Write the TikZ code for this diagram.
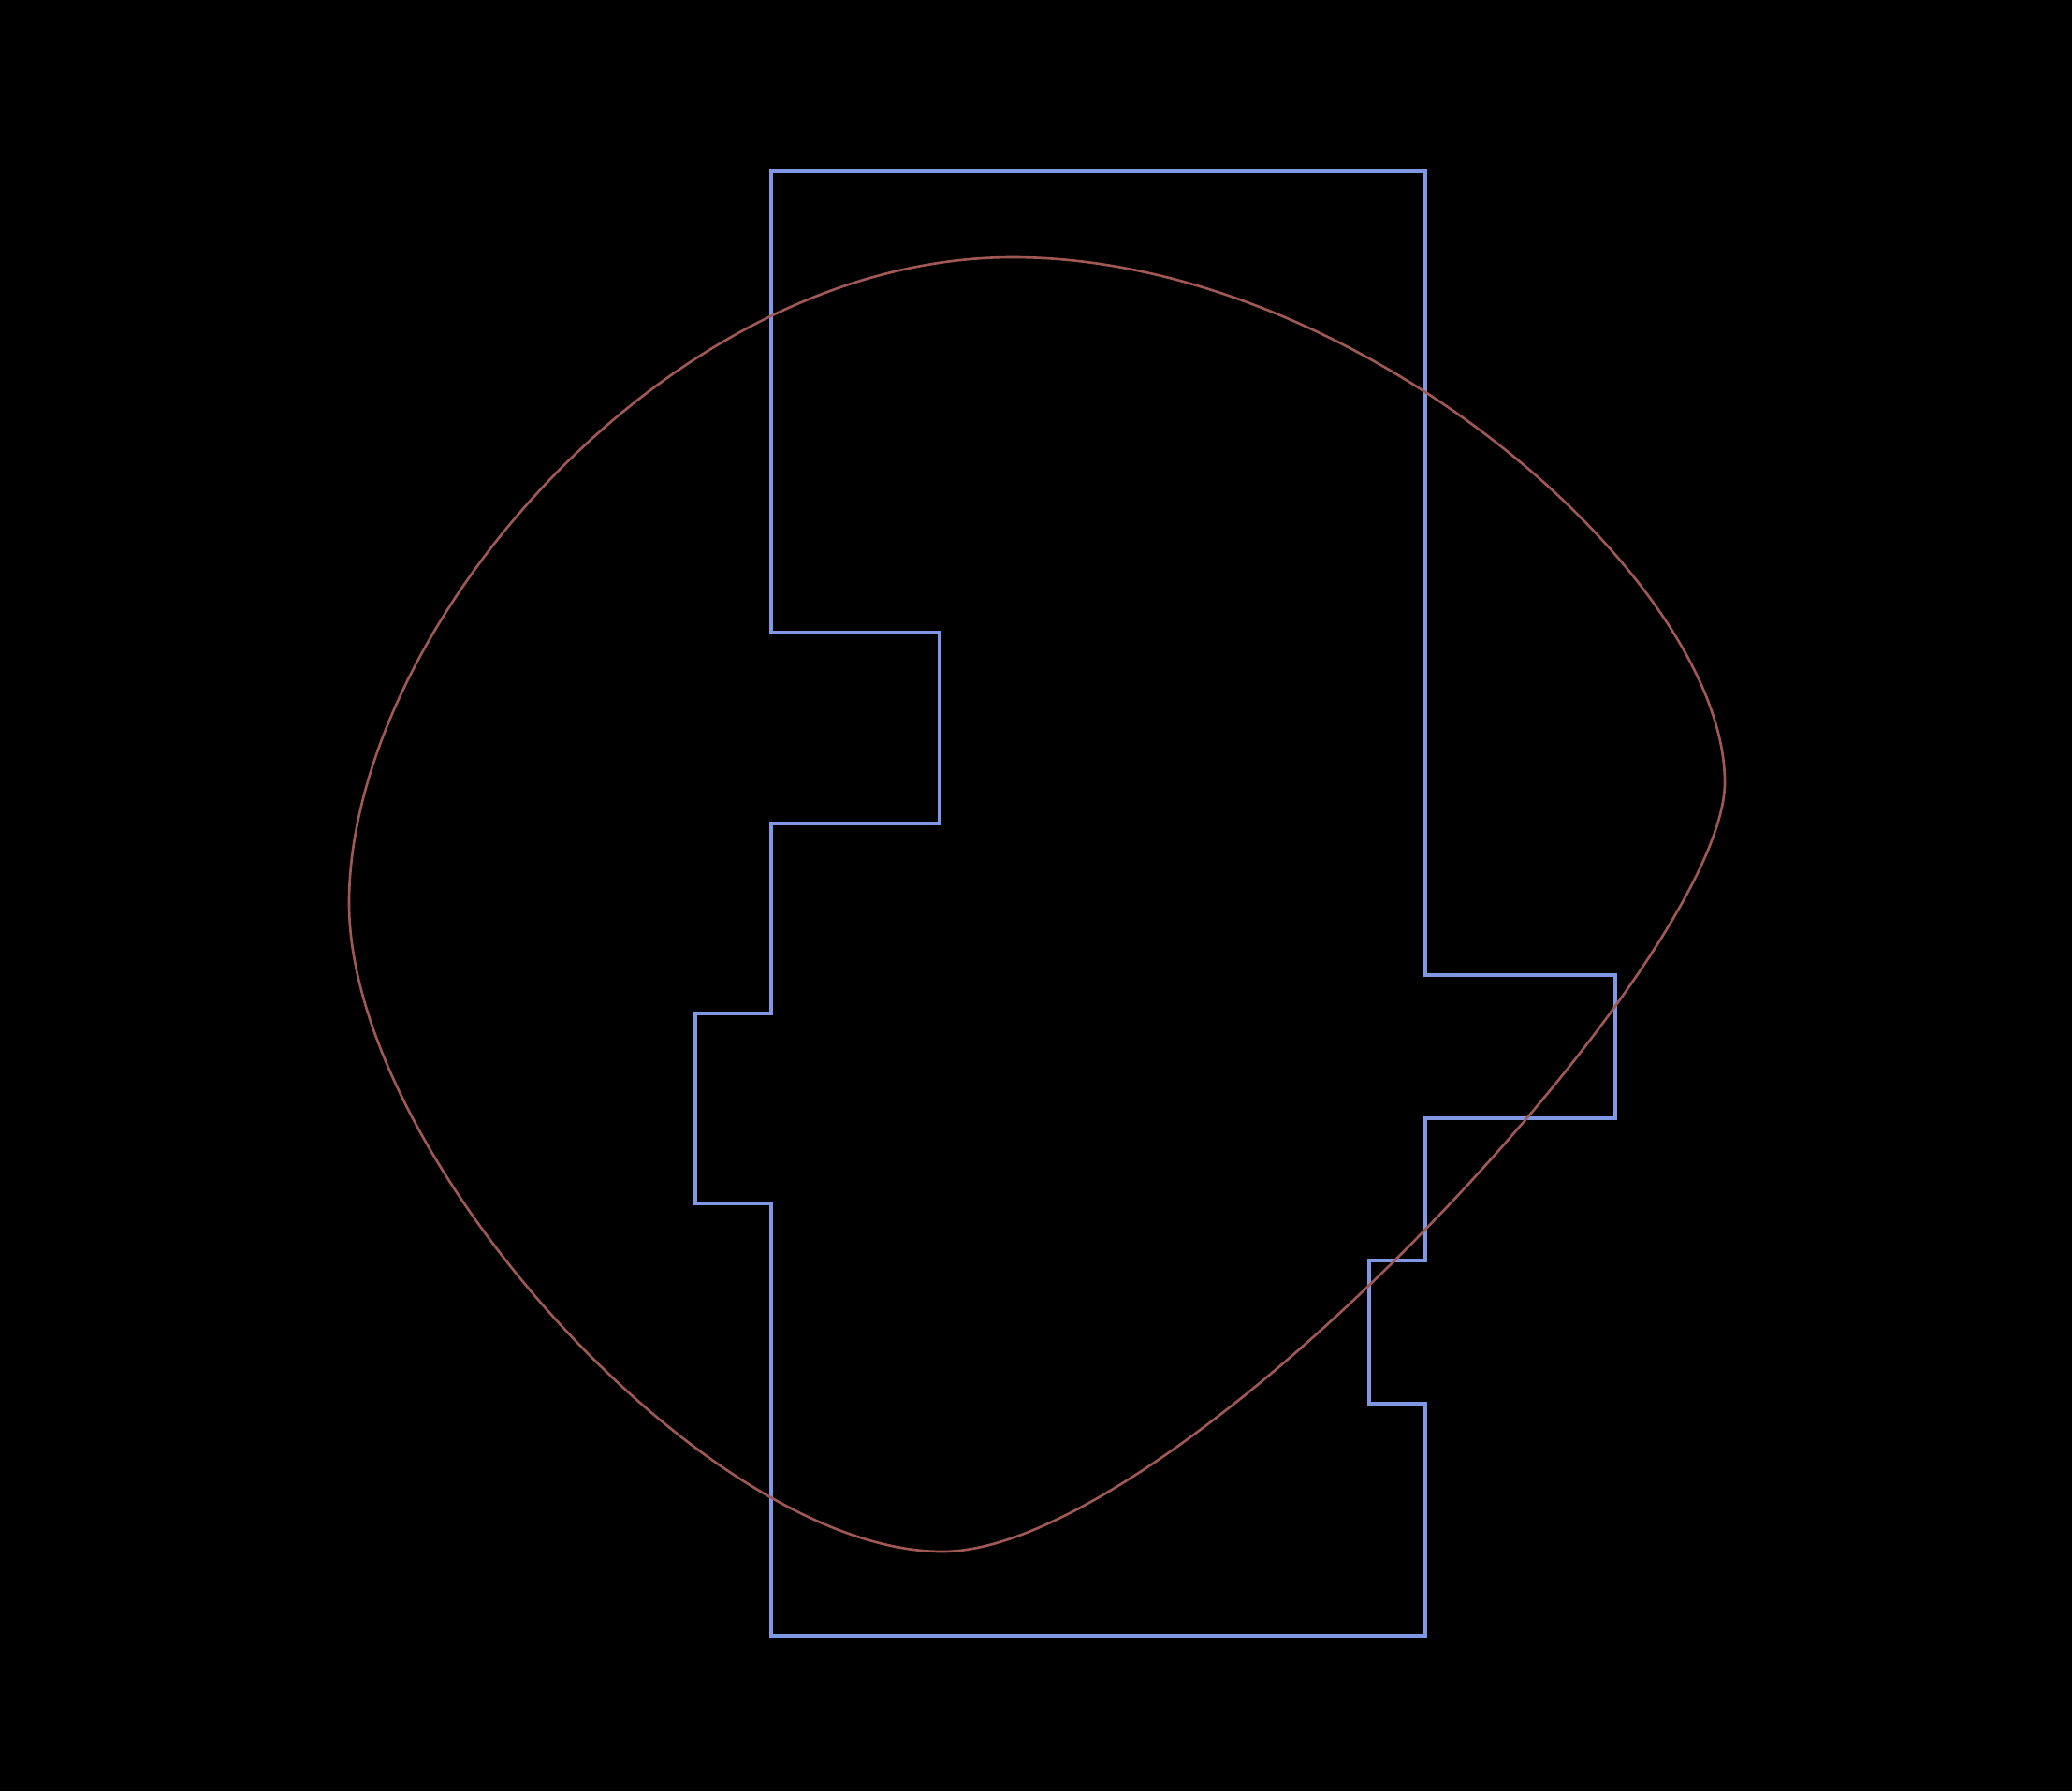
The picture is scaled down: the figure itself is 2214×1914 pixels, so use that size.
\documentclass[tikz,border=0pt]{standalone}
\begin{document}
\begin{tikzpicture}[x=0.01cm,y=-0.01cm,
  outline/.style={draw={rgb,255:red,128;green,152;blue,228},line width=0.9pt,line join=miter},
  blob/.style={draw={rgb,255:red,160;green,88;blue,84},line width=0.75pt}]
\fill[black] (0,0) rectangle (2214,1914);
\useasboundingbox (0,0) rectangle (2214,1914);
\draw[outline] (824,183) -- (1523,183) -- (1523,1042) -- (1726,1042) -- (1726,1195)
  -- (1523,1195) -- (1523,1347) -- (1463,1347) -- (1463,1500) -- (1523,1500)
  -- (1523,1748) -- (824,1748) -- (824,1286) -- (743,1286) -- (743,1083)
  -- (824,1083) -- (824,880) -- (1004,880) -- (1004,676) -- (824,676) -- cycle;
\coordinate (T) at (1082,275);
\coordinate (R) at (1843,836);
\coordinate (B) at (1007,1658);
\coordinate (L) at (373,965);
\draw[blob] (T) .. controls (1452,275) and (1843,621) .. (R)
  .. controls (1843,1026) and (1257,1658) .. (B)
  .. controls (757,1658) and (373,1235) .. (L)
  .. controls (373,675) and (712,275) .. (T) -- cycle;
\end{tikzpicture}
\end{document}
